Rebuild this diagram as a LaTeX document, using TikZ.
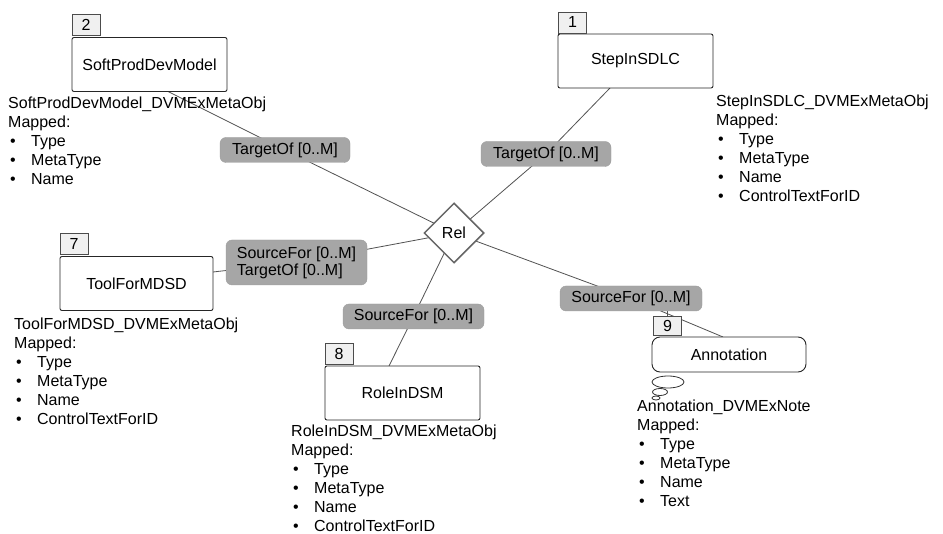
\documentclass[tikz,border=0pt]{standalone}
\usepackage{fontspec}
\setmainfont{Liberation Sans}
\usetikzlibrary{shapes.geometric,backgrounds,calc}

% one bullet item of a property list
\newcommand\propitem[1]{\makebox[23pt][l]{\hspace{2pt}\textbullet}#1}

\begin{document}
\begin{tikzpicture}[x=1pt,y=-1pt,
  every node/.style={font=\fontsize{16}{19}\selectfont, inner sep=0pt},
  entity/.style={draw=black!85, line width=0.9pt, rounded corners=2pt, fill=white,
                 minimum width=155pt, minimum height=54pt},
  note/.style={entity, rounded corners=8pt, minimum height=35pt},
  tagbox/.style={draw=black!70, fill=black!6, line width=0.8pt,
                 minimum width=28pt, minimum height=21pt},
  rolelabel/.style={fill=black!35, draw=black!38, rounded corners=6pt,
                    minimum width=130pt, minimum height=25pt, align=left},
  link/.style={draw=black!68, line width=0.8pt},
  info/.style={anchor=north west, align=left},
  relshape/.style={diamond, draw=black!60, line width=1.5pt, fill=white,
                   minimum width=60pt, minimum height=60pt},
  bubble/.style={draw=black!80, line width=0.8pt, fill=white},
]
\useasboundingbox (0,0) rectangle (943,534);

% entity boxes
\node[entity] (spdm) at (149.5,64.5) {SoftProdDevModel};
\node[entity] (step) at (635.5,61) {StepInSDLC};
\node[entity, minimum width=153pt] (tool) at (136.5,283.5) {ToolForMDSD};
\node[entity] (role) at (402.5,393) {RoleInDSM};
\node[note, minimum width=154pt] (annot) at (729,354.5) {Annotation};

% number tags
\node[tagbox] (tag2) at (86,24.5) {2};
\node[tagbox] (tag1) at (572.5,22.5) {1};
\node[tagbox] (tag7) at (74,244) {7};
\node[tagbox] (tag8) at (339,354) {8};
\node[tagbox, minimum height=19pt] (tag9) at (667.5,325.5) {9};

% relationship
\node[relshape] (rel) at (454,233) {Rel};

% role labels
\node[rolelabel] (lblA) at (285,150) {TargetOf [0..M]};
\node[rolelabel] (lblB) at (546,154) {TargetOf [0..M]};
\node[rolelabel, minimum width=141pt, minimum height=45pt] (lblC) at (296.5,262.5)
     {SourceFor [0..M]\\[-2pt]TargetOf [0..M]};
\node[rolelabel, minimum width=141pt] (lblD) at (413.5,316.5) {SourceFor [0..M]};
\node[rolelabel, minimum width=142pt] (lblE) at (631,298.5) {SourceFor [0..M]};

% attachment points on the boxes
\coordinate (spdm-p) at (167,91);
\coordinate (step-p) at (610,88);
\coordinate (tool-p) at (213,272);
\coordinate (role-p) at (389,366);
\coordinate (annot-p) at (723,337);

% connectors behind everything
\begin{pgfonlayer}{background}
  \fill[white] (0,0) rectangle (943,534);
  \draw[link] (spdm-p) -- (lblA.center) -- (rel.center);
  \draw[link] (step-p) -- (lblB.center) -- (rel.center);
  \draw[link] (tool-p) -- (lblC.center) -- (rel.center);
  \draw[link] (rel.center) -- (lblD.center) -- (role-p);
  \draw[link] (rel.center) -- (lblE.center) -- (annot-p);
  \draw[link] (tag9.north) -- (tag9.north |- lblE.south);
\end{pgfonlayer}

% thought bubbles of the note
\draw[bubble] (668,382) ellipse [x radius=16, y radius=6];
\draw[bubble] (660,392) ellipse [x radius=7.5, y radius=3.5];
\draw[bubble] (656,398) ellipse [x radius=4, y radius=2];

% mapping descriptions
\node[info] (spdm-info) at (8,97) {SoftProdDevModel\_DVMExMetaObj\\Mapped:\\
  \propitem{Type}\\\propitem{MetaType}\\\propitem{Name}};
\node[info] (step-info) at (716,95) {StepInSDLC\_DVMExMetaObj\\Mapped:\\
  \propitem{Type}\\\propitem{MetaType}\\\propitem{Name}\\\propitem{ControlTextForID}};
\node[info] (tool-info) at (14,318) {ToolForMDSD\_DVMExMetaObj\\Mapped:\\
  \propitem{Type}\\\propitem{MetaType}\\\propitem{Name}\\\propitem{ControlTextForID}};
\node[info] (role-info) at (291,425) {RoleInDSM\_DVMExMetaObj\\Mapped:\\
  \propitem{Type}\\\propitem{MetaType}\\\propitem{Name}\\\propitem{ControlTextForID}};
\node[info] (annot-info) at (637,400) {Annotation\_DVMExNote\\Mapped:\\
  \propitem{Type}\\\propitem{MetaType}\\\propitem{Name}\\\propitem{Text}};
\end{tikzpicture}
\end{document}
